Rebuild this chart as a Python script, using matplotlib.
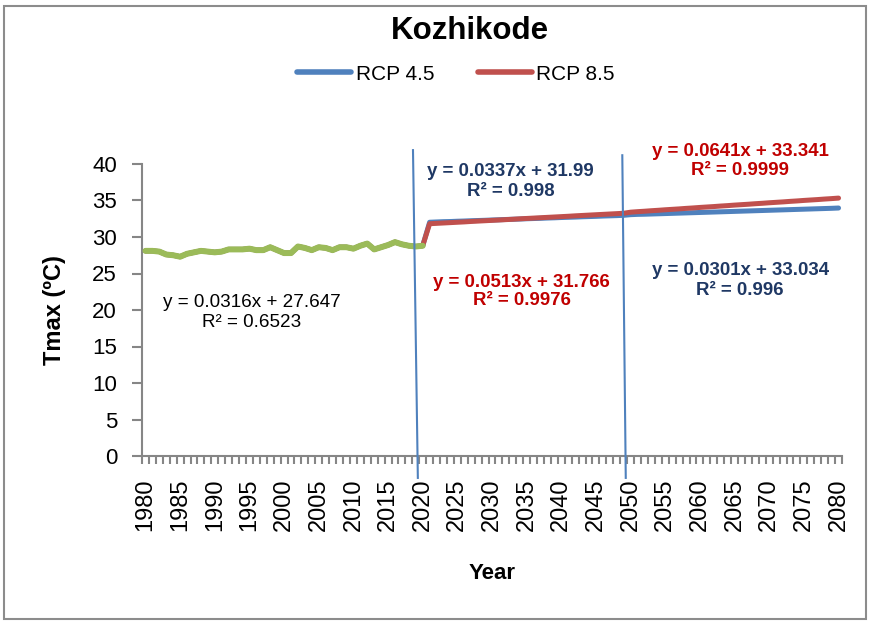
import matplotlib
matplotlib.use("Agg")
import matplotlib.pyplot as plt
from matplotlib.patches import Rectangle

plt.rcParams['font.family'] = ['Liberation Sans', 'DejaVu Sans']

# ---------------- data ----------------
hist_years = list(range(1980, 2021))
hist_tmax = [28.1, 28.1, 28.0, 27.6, 27.5, 27.3, 27.7, 27.9, 28.1, 28.0,
             27.9, 28.0, 28.3, 28.3, 28.3, 28.4, 28.2, 28.2, 28.6, 28.2,
             27.8, 27.8, 28.7, 28.5, 28.2, 28.6, 28.5, 28.2, 28.6, 28.6,
             28.4, 28.8, 29.1, 28.3, 28.6, 28.9, 29.3, 29.0, 28.8, 28.7,
             28.8]

future_years = list(range(2021, 2081))
rcp45_future = [32.02, 32.06, 32.10, 32.12, 32.16, 32.19, 32.23, 32.26, 32.29, 32.33,
                32.36, 32.40, 32.43, 32.46, 32.50, 32.53, 32.56, 32.60, 32.63, 32.67,
                32.70, 32.73, 32.77, 32.80, 32.83, 32.87, 32.90, 32.93, 32.97,
                33.06, 33.10, 33.12, 33.15, 33.18, 33.21, 33.24, 33.27, 33.30, 33.33,
                33.36, 33.39, 33.42, 33.45, 33.48, 33.51, 33.54, 33.57, 33.60, 33.63,
                33.66, 33.69, 33.72, 33.75, 33.78, 33.81, 33.84, 33.87, 33.90, 33.93,
                33.97]
rcp85_future = [31.82, 31.87, 31.92, 31.97, 32.02, 32.07, 32.13, 32.18, 32.23, 32.28,
                32.33, 32.38, 32.43, 32.49, 32.54, 32.59, 32.64, 32.69, 32.74, 32.79,
                32.84, 32.90, 32.95, 33.00, 33.05, 33.10, 33.15, 33.20, 33.25,
                33.40, 33.47, 33.53, 33.60, 33.66, 33.73, 33.79, 33.85, 33.92, 33.98,
                34.05, 34.11, 34.17, 34.24, 34.30, 34.37, 34.43, 34.49, 34.56, 34.62,
                34.69, 34.75, 34.81, 34.88, 34.94, 35.01, 35.07, 35.13, 35.20, 35.26,
                35.33]

series_names = ["RCP 4.5", "RCP 8.5"]
x_tick_labels = [str(y) for y in range(1980, 2081, 5)]
y_ticks = [0, 5, 10, 15, 20, 25, 30, 35, 40]

eq_hist = "y = 0.0316x + 27.647\nR² = 0.6523"
eq_45_a = "y = 0.0337x + 31.99\nR² = 0.998"
eq_45_b = "y = 0.0301x + 33.034\nR² = 0.996"
eq_85_a = "y = 0.0513x + 31.766\nR² = 0.9976"
eq_85_b = "y = 0.0641x + 33.341\nR² = 0.9999"

# ---------------- figure ----------------
BLUE = '#4F81BD'
RED = '#C0504D'
GREEN = '#9BBB59'
NAVY = '#1F3864'
DRED = '#C00000'
AXC = '#868686'

fig = plt.figure(figsize=(8.71, 6.24), dpi=100)
ax = fig.add_axes([142/871, 1-456/624, 700/871, 292/624])

years_all = hist_years + future_years
ax.plot(years_all, hist_tmax + rcp45_future, color=BLUE, lw=3.6,
        solid_capstyle='round', solid_joinstyle='round', label=series_names[0], zorder=3)
ax.plot(years_all, hist_tmax + rcp85_future, color=RED, lw=3.6,
        solid_capstyle='round', solid_joinstyle='round', label=series_names[1], zorder=4)
ax.plot(hist_years, hist_tmax, color=GREEN, lw=4.3,
        solid_capstyle='round', solid_joinstyle='round', zorder=5)

ax.set_xlim(1979.5, 2080.5)
ax.set_ylim(0, 40)

for s in ['top', 'right']:
    ax.spines[s].set_visible(False)
for s in ['left', 'bottom']:
    ax.spines[s].set_color(AXC)
    ax.spines[s].set_linewidth(1.5)

ax.set_yticks(y_ticks)
ax.set_yticklabels([str(v) for v in y_ticks], fontsize=16)
ax.tick_params(axis='y', direction='out', length=7, width=1.5, color=AXC, pad=11)

ax.set_xticks(list(range(1980, 2081, 5)))
ax.set_xticklabels(x_tick_labels, rotation=90, fontsize=17)
ax.set_xticks([y - 0.5 for y in range(1980, 2082)], minor=True)
ax.tick_params(axis='x', which='major', length=0, pad=16)
ax.tick_params(axis='x', which='minor', direction='out', length=6, width=1.5, color=AXC)

ax.set_ylabel("Tmax (ºC)", fontsize=17, fontweight='bold', labelpad=19)
ax.set_xlabel("Year", fontsize=16, fontweight='bold', labelpad=23)

# vertical separator shapes
ax.plot([2018.6, 2019.3], [41.9, -3.0], color=BLUE, lw=1.5, clip_on=False, zorder=6)
ax.plot([2048.8, 2049.3], [41.2, -3.0], color=BLUE, lw=1.5, clip_on=False, zorder=6)

# trendline labels
ax.text(1995.3, 19.7, eq_hist, ha='center', va='center', fontsize=13.6,
        color='black', linespacing=1.25)
ax.text(2032.7, 37.6, eq_45_a, ha='center', va='center', fontsize=13.4,
        color=NAVY, fontweight='bold', linespacing=1.22, clip_on=False)
ax.text(2065.8, 40.4, eq_85_b, ha='center', va='center', fontsize=13.4,
        color=DRED, fontweight='bold', linespacing=1.1, clip_on=False)
ax.text(2034.3, 22.5, eq_85_a, ha='center', va='center', fontsize=13.4,
        color=DRED, fontweight='bold', linespacing=1.1)
ax.text(2065.8, 24.0, eq_45_b, ha='center', va='center', fontsize=13.4,
        color=NAVY, fontweight='bold', linespacing=1.2)

fig.text(470/871, 1-31/624, "Kozhikode", ha='center', va='center',
         fontsize=22.5, fontweight='bold')

leg = fig.legend(loc='center', bbox_to_anchor=(456/871, 1-74/624), ncol=2,
                 frameon=False, fontsize=15, handlelength=2.6, handletextpad=0.2,
                 columnspacing=2.1)
for l in leg.get_lines():
    l.set_linewidth(4)

fig.patches.append(Rectangle((4/871, 5/624), 862/871, 613/624, transform=fig.transFigure,
                             fill=False, edgecolor='#8C8C8C', lw=1.5))

fig.savefig("out.png", dpi=100)
